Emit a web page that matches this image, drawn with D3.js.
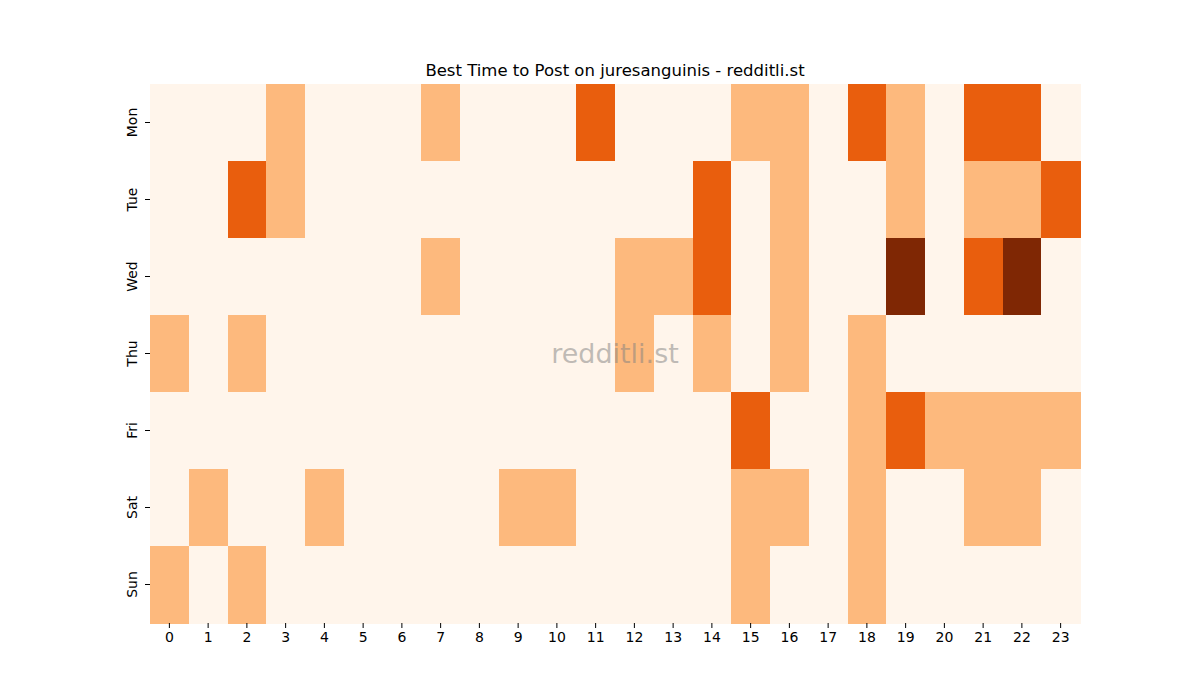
<!DOCTYPE html>
<html>
<head>
<meta charset="utf-8">
<script src="https://cdn.jsdelivr.net/npm/d3@7"></script>
<style>
  body { margin: 0; background: #fff; }
  text { font-family: "DejaVu Sans", sans-serif; fill: #000; }
</style>
</head>
<body>
<div class="canvas"></div>
<script>
var days = ["Mon", "Tue", "Wed", "Thu", "Fri", "Sat", "Sun"];
var hours = d3.range(24);
var mon = [0,0,0,1,0,0,0,1,0,0,0,2,0,0,0,1,1,0,2,1,0,2,2,0];
var tue = [0,0,2,1,0,0,0,0,0,0,0,0,0,0,2,0,1,0,0,1,0,1,1,2];
var wed = [0,0,0,0,0,0,0,1,0,0,0,0,1,1,2,0,1,0,0,3,0,2,3,0];
var thu = [1,0,1,0,0,0,0,0,0,0,0,0,1,0,1,0,1,0,1,0,0,0,0,0];
var fri = [0,0,0,0,0,0,0,0,0,0,0,0,0,0,0,2,0,0,1,2,1,1,1,1];
var sat = [0,1,0,0,1,0,0,0,0,1,1,0,0,0,0,1,1,0,1,0,0,1,1,0];
var sun = [1,0,1,0,0,0,0,0,0,0,0,0,0,0,0,1,0,0,1,0,0,0,0,0];
var counts = [mon, tue, wed, thu, fri, sat, sun];
var levels = [0, 1, 2, 3];
var levelColors = ["#fff5eb", "#fdb97d", "#e95e0d", "#7f2704"];

function init() {
    var width = 1200,
        height = 700,
        left = 150, right = 1080, top = 84, bottom = 623;

    var svg = d3.select(".canvas").append("svg")
        .attr("width", width)
        .attr("height", height);

    var x = d3.scaleBand().domain(hours).range([left, right]);
    var y = d3.scaleBand().domain(days).range([top, bottom]);
    var color = d3.scaleOrdinal().domain(levels).range(levelColors);

    var cells = [];
    counts.forEach(function (row, i) {
        row.forEach(function (v, h) {
            cells.push({day: days[i], hour: h, value: v});
        });
    });

    svg.append("g").selectAll("rect")
        .data(cells)
        .enter().append("rect")
        .attr("x", function (d) { return x(d.hour); })
        .attr("y", function (d) { return y(d.day); })
        .attr("width", x.bandwidth() + 0.5)
        .attr("height", y.bandwidth() + 0.5)
        .attr("fill", function (d) { return color(d.value); })
        .attr("shape-rendering", "crispEdges");

    var xAxis = svg.append("g")
        .attr("transform", "translate(0," + bottom + ")")
        .call(d3.axisBottom(x).tickSize(5).tickPadding(4));
    xAxis.select(".domain").remove();
    xAxis.selectAll("text").style("font-size", "14px").attr("fill", "#000");
    xAxis.selectAll("line").attr("stroke", "#000");

    var yAxis = svg.append("g")
        .attr("transform", "translate(" + left + ",0)")
        .call(d3.axisLeft(y).tickSize(5).tickPadding(4));
    yAxis.select(".domain").remove();
    yAxis.selectAll("line").attr("stroke", "#000");
    yAxis.selectAll("text")
        .style("font-size", "14px")
        .attr("fill", "#000")
        .attr("x", null).attr("dy", null)
        .attr("text-anchor", "middle")
        .attr("transform", "translate(-13,0) rotate(-90)");

    svg.append("text")
        .attr("x", (left + right) / 2)
        .attr("y", 76)
        .attr("text-anchor", "middle")
        .style("font-size", "16.5px")
        .text("Best Time to Post on juresanguinis - redditli.st");

    svg.append("text")
        .attr("x", (left + right) / 2)
        .attr("y", (top + bottom) / 2)
        .attr("text-anchor", "middle")
        .attr("dominant-baseline", "central")
        .style("font-size", "27px")
        .style("fill", "rgba(128,128,128,0.5)")
        .text("redditli.st");
}

init();
</script>
</body>
</html>
